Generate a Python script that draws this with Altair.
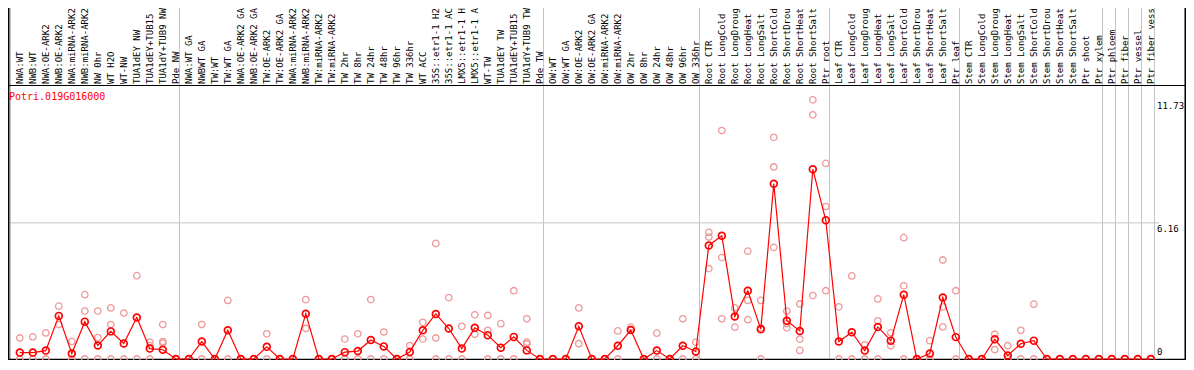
import altair as alt
import pandas as pd

gene_id = "Potri.019G016000"

categories = [
    "NWA:WT", "NWB:WT", "NWA:OE-ARK2", "NWB:OE-ARK2", "NWA:miRNA-ARK2", "NWB:miRNA-ARK2",
    "NW 0hr", "WT H2O", "WT-NW", "TUA1dEY NW", "TUA1dEY+TUB15", "TUA1dY+TUB9 NW", "Pde NW",
    "NWA:WT GA", "NWBWT GA", "TW:WT", "TW:WT GA", "NWA:OE-ARK2 GA", "NWB:OE-ARK2 GA",
    "TW:OE-ARK2", "TW:OE-ARK2 GA", "NWA:miRNA-ARK2", "NWB:miRNA-ARK2", "TW:miRNA-ARK2",
    "TW:miRNA-ARK2", "TW 2hr", "TW 8hr", "TW 24hr", "TW 48hr", "TW 96hr", "TW 336hr",
    "WT ACC", "35S::etr1-1 H2", "35S::etr1-1 AC", "LMX5::etr1-1 H", "LMX5::etr1-1 A",
    "WT-TW", "TUA1dEY TW", "TUA1dEY+TUB15", "TUA1dY+TUB9 TW", "Pde TW",
    "OW:WT", "OW:WT GA", "OW:OE-ARK2", "OW:OE-ARK2 GA", "OW:miRNA-ARK2", "OW:miRNA-ARK2",
    "OW 2hr", "OW 8hr", "OW 24hr", "OW 48hr", "OW 96hr", "OW 336hr",
    "Root CTR", "Root LongCold", "Root LongDroug", "Root LongHeat", "Root LongSalt",
    "Root ShortCold", "Root ShortDrou", "Root ShortHeat", "Root ShortSalt", "Ptr root",
    "Leaf CTR", "Leaf LongCold", "Leaf LongDroug", "Leaf LongHeat", "Leaf LongSalt",
    "Leaf ShortCold", "Leaf ShortDrou", "Leaf ShortHeat", "Leaf ShortSalt", "Ptr leaf",
    "Stem CTR", "Stem LongCold", "Stem LongDroug", "Stem LongHeat", "Stem LongSalt",
    "Stem ShortCold", "Stem ShortDrou", "Stem ShortHeat", "Stem ShortSalt", "Ptr shoot",
    "Ptr xylem", "Ptr phloem", "Ptr fiber", "Ptr vessel", "Ptr fiber vess",
]

means = [
    0.29, 0.29, 0.38, 1.95, 0.25, 1.69, 0.61, 1.25, 0.70, 1.88, 0.47, 0.42, 0.0,
    0.0, 0.79, 0.0, 1.30, 0.0, 0.0, 0.55, 0.0, 0.0, 2.05, 0.0, 0.0, 0.31, 0.36,
    0.86, 0.57, 0.0, 0.32, 1.30, 2.04, 1.38, 0.47, 1.41, 1.08, 0.51, 1.00, 0.39, 0.0,
    0.0, 0.0, 1.48, 0.0, 0.0, 0.60, 1.31, 0.0, 0.38, 0.0, 0.60, 0.34,
    5.14, 5.58, 1.92, 3.09, 1.35, 7.93, 1.73, 1.27, 8.59, 6.28,
    0.79, 1.21, 0.38, 1.45, 0.83, 2.91, 0.0, 0.25, 2.78, 0.99,
    0.0, 0.0, 0.89, 0.16, 0.69, 0.83, 0.0, 0.0, 0.0, 0.0, 0.0,
    0.0, 0.0, 0.0, 0.0,
]

replicates = [
    [0.95, 0], [1.00, 0], [1.18, 0], [2.39, 1.56], [0.79, 0], [2.91, 2.17, 0],
    [2.17, 0.97, 0], [2.31, 1.56, 0], [2.08, 0], [3.77, 0], [0.76, 0.61, 0],
    [1.56, 0.79, 0.72], [0],
    [0], [1.56, 0], [0], [2.65, 0], [0], [0], [1.14, 0], [0], [0], [2.69, 1.38],
    [0], [0], [0.90, 0], [1.14, 0], [2.69, 0], [1.22, 0], [0], [0.61, 0],
    [1.66, 0.90], [5.23, 0.95, 0], [2.78, 0], [1.48, 0], [2.00, 1.12],
    [1.97, 1.30, 0], [1.60, 0], [3.09, 0], [1.82, 0.76, 0.68], [0],
    [0], [0], [2.31, 0.69], [0], [0], [1.27, 0], [1.44, 1.33], [0], [1.17, 0],
    [0], [1.82, 0], [0.76, 0],
    [5.73, 5.52, 4.09], [10.34, 4.59, 1.82], [2.31, 1.44], [4.88, 2.65, 1.78],
    [2.65, 1.41, 0], [10.03, 8.69, 5.05], [2.17, 1.60, 1.41], [2.49, 0.90, 0.39],
    [11.73, 11.05, 2.87], [8.85, 6.90, 3.09],
    [2.36, 0], [3.76, 0], [0.64, 0], [2.72, 1.73, 0], [1.19, 0.60], [5.49, 3.31, 0],
    [0], [0.83, 0], [4.48, 2.36, 1.45], [3.09, 0],
    [0], [0], [1.12, 0.42], [0.60, 0], [1.30, 0], [2.48, 0], [0], [0], [0], [0],
    [0], [0], [0], [0], [0],
]

group_starts = [0, 13, 41, 53, 63, 73, 84, 85, 86, 87, 88]
tick_values = [11.73, 6.16, 0]
tick_labels = ["11.73", "6.16", "0"]
grid_values = [6.16]

FONT = "DejaVu Sans Mono"
W, H = 1178, 352

x_scale = alt.Scale(domain=[0, 87], range=[11.8, 1142.8])
y_scale = alt.Scale(domain=[0, 12.40], range=[351, 77], nice=False, zero=False)

df = pd.DataFrame({"idx": list(range(len(categories))), "cat": categories, "mean": means})
rep_df = pd.DataFrame(
    [{"idx": i, "val": v} for i, reps in enumerate(replicates) for v in reps]
)
bound_df = pd.DataFrame({"pos": [k - 0.715 for k in group_starts]})
grid_df = pd.DataFrame({"v": grid_values})
tick_df = pd.DataFrame({"v": tick_values, "label": tick_labels})
one = pd.DataFrame({"gene": [gene_id]})

X = alt.X("idx:Q", scale=x_scale, axis=None)

vgrid = alt.Chart(bound_df).mark_rule(color="#c4c4c4", strokeWidth=1).encode(
    x=alt.X("pos:Q", scale=x_scale, axis=None), y=alt.value(0), y2=alt.value(351)
)
hgrid = alt.Chart(grid_df).mark_rule(color="#c4c4c4", strokeWidth=1).encode(
    y=alt.Y("v:Q", scale=y_scale, axis=None), x=alt.value(0), x2=alt.value(1151)
)
top_line = alt.Chart(one).mark_rule(color="black", strokeWidth=1).encode(
    y=alt.value(77.5), x=alt.value(0), x2=alt.value(W)
)
bottom_line = alt.Chart(one).mark_rule(color="black", strokeWidth=1.5).encode(
    y=alt.value(351.5), x=alt.value(0), x2=alt.value(W)
)
left_line = alt.Chart(one).mark_rule(color="black", strokeWidth=1.5).encode(
    x=alt.value(0.75), y=alt.value(0), y2=alt.value(H)
)
right_line = alt.Chart(one).mark_rule(color="black", strokeWidth=1.5).encode(
    x=alt.value(W - 0.75), y=alt.value(0), y2=alt.value(H)
)

reps = alt.Chart(rep_df).mark_point(
    shape="circle", filled=False, color="#ee9999", size=42, strokeWidth=1.3, opacity=1
).encode(x=X, y=alt.Y("val:Q", scale=y_scale, axis=None))

line = alt.Chart(df).mark_line(color="#ff0000", strokeWidth=1.2).encode(
    x=X, y=alt.Y("mean:Q", scale=y_scale, axis=None), order="idx:Q"
)
pts = alt.Chart(df).mark_point(
    shape="circle", filled=False, color="#ff0000", size=46, strokeWidth=1.7, opacity=1
).encode(x=X, y=alt.Y("mean:Q", scale=y_scale, axis=None))

cat_text = alt.Chart(df).mark_text(
    angle=270, align="left", baseline="middle", font=FONT, fontSize=9, color="black"
).encode(x=X, y=alt.value(76), text="cat:N")

title = alt.Chart(one).mark_text(
    align="left", baseline="middle", font=FONT, fontSize=10, color="#ff0000"
).encode(x=alt.value(1), y=alt.value(89), text="gene:N")

ticks_pos = alt.Chart(tick_df).transform_filter("datum.v > 0").mark_text(
    align="left", baseline="middle", font=FONT, fontSize=9, color="black", dy=6
).encode(x=alt.value(1149), y=alt.Y("v:Q", scale=y_scale, axis=None), text="label:N")
ticks_zero = alt.Chart(tick_df).transform_filter("datum.v == 0").mark_text(
    align="left", baseline="middle", font=FONT, fontSize=9, color="black", dy=-7
).encode(x=alt.value(1149), y=alt.Y("v:Q", scale=y_scale, axis=None), text="label:N")

chart = alt.layer(
    vgrid, hgrid, top_line, bottom_line, left_line, right_line,
    reps, line, pts, cat_text, title, ticks_pos, ticks_zero,
).properties(
    width=W, height=H, padding=0, autosize=alt.AutoSizeParams(type="none")
).configure_view(stroke=None)

chart.save("out.html", embed_options={"renderer": "svg", "actions": False})
